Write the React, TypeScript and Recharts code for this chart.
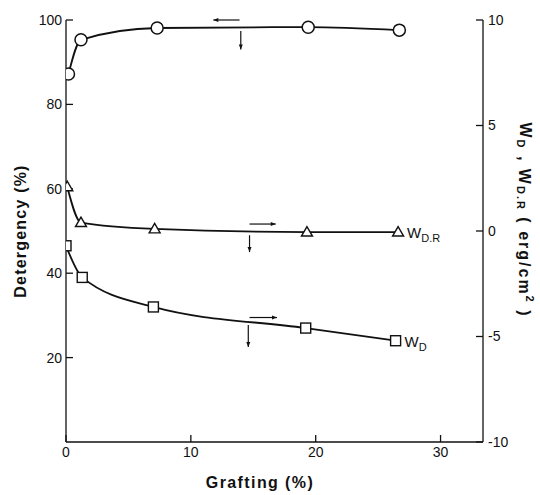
import React from 'react';
import { ComposedChart, Line, XAxis, YAxis, ReferenceLine, LabelList, Label } from 'recharts';

// Detergency (%) vs grafting (%) — left axis
const detX = [0.2, 1.2, 7.3, 19.4, 26.7];
const detergency = [87.2, 95.3, 98.1, 98.3, 97.6];
// W_D,R (erg/cm2) — right axis
const wdrX = [0.1, 1.2, 7.1, 19.3, 26.6];
const wdr = [2.1, 0.4, 0.1, -0.05, -0.05];
// W_D (erg/cm2) — right axis
const wdX = [0.0, 1.3, 7.0, 19.2, 26.4];
const wd = [-0.7, -2.2, -3.6, -4.6, -5.2];

const xTicks = [0, 10, 20, 30];
const leftTicks = [20, 40, 60, 80, 100];
const rightTicks = [-10, -5, 0, 5, 10];
const seriesNames = ['', 'D.R', 'D'];

const detData = detX.map((x, i) => ({ x, y: detergency[i] }));
const wdrData = wdrX.map((x, i) => ({ x, y: wdr[i], name: i === wdrX.length - 1 ? seriesNames[1] : undefined }));
const wdData = wdX.map((x, i) => ({ x, y: wd[i], name: i === wdX.length - 1 ? seriesNames[2] : undefined }));

const INK = '#111';
const FONT = '"Liberation Sans", "DejaVu Sans", sans-serif';

const CircleDot = (p: any) => (
  <circle key={`c${p.index}`} cx={p.cx} cy={p.cy} r={6} fill="#fff" stroke={INK} strokeWidth={1.5} />
);
const TriDot = (p: any) => (
  <path key={`t${p.index}`} d={`M${p.cx},${p.cy - 5.5}L${p.cx - 5.5},${p.cy + 4}L${p.cx + 5.5},${p.cy + 4}Z`} fill="#fff" stroke={INK} strokeWidth={1.4} />
);
const SqDot = (p: any) => (
  <rect key={`s${p.index}`} x={p.cx - 5} y={p.cy - 5} width={10} height={10} fill="#fff" stroke={INK} strokeWidth={1.4} />
);

const arrowShape = (p: any) => {
  const { x1, y1, x2, y2 } = p;
  const dx = x2 - x1, dy = y2 - y1;
  const len = Math.hypot(dx, dy) || 1;
  const ux = dx / len, uy = dy / len;
  const h = 5, w = 2;
  const bx = x2 - ux * h, by = y2 - uy * h;
  const px = -uy * w, py = ux * w;
  return (
    <g>
      <line x1={x1} y1={y1} x2={x2} y2={y2} stroke={INK} strokeWidth={1.2} />
      <path d={`M${bx + px},${by + py}L${x2},${y2}L${bx - px},${by - py}Z`} fill={INK} />
    </g>
  );
};

const seriesLabel = (p: any) => {
  if (!p.value) return null;
  return (
    <text x={p.x + 9} y={p.y + 6} fontFamily={FONT} fontSize={15} fill={INK}>
      W<tspan dy={4} fontSize={11}>{p.value}</tspan>
    </text>
  );
};

const LeftLabel = (props: any) => {
  const vb = props.viewBox;
  const cx = 20;
  const cy = 231;
  return (
    <text x={cx} y={cy} transform={`rotate(-90 ${cx} ${cy})`} textAnchor="middle" dominantBaseline="central" fontFamily={FONT} fontSize={16} fontWeight="bold" letterSpacing={1.2} fill={INK}>
      Detergency (%)
    </text>
  );
};

const RightLabel = (props: any) => {
  const cx = 525;
  const cy = 220;
  return (
    <text x={cx} y={cy} transform={`rotate(90 ${cx} ${cy})`} textAnchor="middle" dominantBaseline="central" fontFamily={FONT} fontSize={16} fontWeight="bold" letterSpacing={2} fill={INK}>
      W<tspan dy={4} fontSize={11}>D</tspan><tspan dy={-4}> , W</tspan><tspan dy={4} fontSize={11}>D.R</tspan><tspan dy={-4}> ( erg/cm</tspan><tspan dy={-5} fontSize={11}>2</tspan><tspan dy={5}> )</tspan>
    </text>
  );
};

const BottomLabel = (props: any) => (
  <text x={260} y={482} textAnchor="middle" dominantBaseline="central" fontFamily={FONT} fontSize={16} fontWeight="bold" letterSpacing={1.4} fill={INK}>
    Grafting (%)
  </text>
);

const tickStyle = { fontFamily: FONT, fontSize: 14, fill: INK };

export default function App() {
  return (
    <div style={{ position: 'absolute', left: 0, top: 0, background: '#fff' }}>
      <ComposedChart width={540} height={495} margin={{ top: 20, right: 0, bottom: 0, left: 6 }}>
        <XAxis
          dataKey="x"
          type="number"
          domain={[0, 33.4]}
          ticks={xTicks}
          allowDataOverflow
          height={53}
          tickSize={-7}
          tickMargin={12}
          tick={tickStyle}
          stroke={INK}
          strokeWidth={1.3}
        >
          <Label content={BottomLabel} />
        </XAxis>
        <YAxis
          yAxisId="left"
          orientation="left"
          type="number"
          domain={[0, 100]}
          ticks={leftTicks}
          width={60}
          tickSize={-7}
          tickMargin={11}
          tick={tickStyle}
          stroke={INK}
          strokeWidth={1.3}
        >
          <Label content={LeftLabel} />
        </YAxis>
        <YAxis
          yAxisId="right"
          orientation="right"
          type="number"
          domain={[-10, 10]}
          ticks={rightTicks}
          width={57}
          tickSize={-7}
          tickMargin={12}
          tick={tickStyle}
          stroke={INK}
          strokeWidth={1.3}
        >
          <Label content={RightLabel} />
        </YAxis>

        <Line yAxisId="left" data={detData} dataKey="y" type="monotone" stroke={INK} strokeWidth={1.8} dot={CircleDot} isAnimationActive={false} />
        <Line yAxisId="right" data={wdrData} dataKey="y" type="monotone" stroke={INK} strokeWidth={1.8} dot={TriDot} isAnimationActive={false}>
          <LabelList dataKey="name" content={seriesLabel} />
        </Line>
        <Line yAxisId="right" data={wdData} dataKey="y" type="monotone" stroke={INK} strokeWidth={1.8} dot={SqDot} isAnimationActive={false}>
          <LabelList dataKey="name" content={seriesLabel} />
        </Line>

        <ReferenceLine yAxisId="left" segment={[{ x: 13.9, y: 100 }, { x: 11.8, y: 100 }]} ifOverflow="visible" shape={arrowShape} />
        <ReferenceLine yAxisId="left" segment={[{ x: 14.0, y: 97.4 }, { x: 14.0, y: 93.0 }]} ifOverflow="visible" shape={arrowShape} />
        <ReferenceLine yAxisId="right" segment={[{ x: 14.7, y: 0.33 }, { x: 16.8, y: 0.33 }]} ifOverflow="visible" shape={arrowShape} />
        <ReferenceLine yAxisId="right" segment={[{ x: 14.7, y: -0.2 }, { x: 14.7, y: -1.0 }]} ifOverflow="visible" shape={arrowShape} />
        <ReferenceLine yAxisId="right" segment={[{ x: 14.7, y: -4.1 }, { x: 16.9, y: -4.1 }]} ifOverflow="visible" shape={arrowShape} />
        <ReferenceLine yAxisId="right" segment={[{ x: 14.6, y: -4.45 }, { x: 14.6, y: -5.5 }]} ifOverflow="visible" shape={arrowShape} />
      </ComposedChart>
    </div>
  );
}
